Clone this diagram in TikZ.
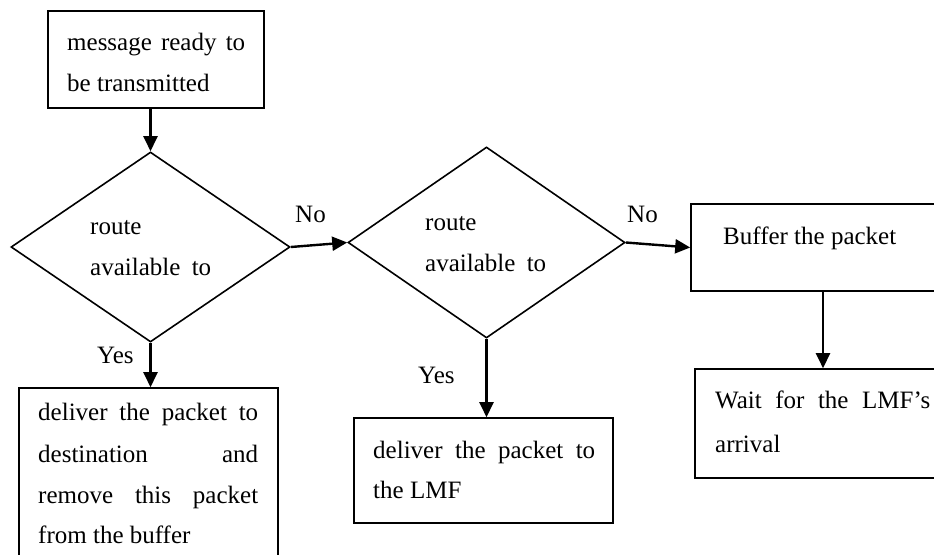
\documentclass[tikz,border=0pt]{standalone}
\usepackage{fontspec}
\setmainfont{Liberation Serif}
\usetikzlibrary{shapes.geometric,arrows.meta}
\begin{document}
\begin{tikzpicture}[x=1pt,y=-1pt,
  box/.style={draw,line width=1.6pt,inner sep=0pt,rectangle},
  dia/.style={draw,line width=1.6pt,inner sep=0pt,diamond},
  txt/.style={anchor=base west,inner sep=0pt,font=\fontsize{25}{30}\selectfont},
  arr/.style={line width=2.4pt,-{Triangle[length=15pt,width=14pt]}}
]
\useasboundingbox (0,0) rectangle (934,554);
\clip (0,0) rectangle (934,554);
% shapes
\node[box,minimum width=216pt,minimum height=97pt] (start) at (156,59.5) {};
\node[dia,minimum width=279pt,minimum height=190pt] (d1) at (150.5,247) {};
\node[dia,minimum width=277pt,minimum height=191pt] (d2) at (486.5,242.5) {};
\node[box,minimum width=264pt,minimum height=87pt] (buf) at (823,247.5) {};
\node[box,minimum width=256pt,minimum height=109pt] (wait) at (823,423.5) {};
\node[box,minimum width=259pt,minimum height=192pt] (del1) at (148.5,484) {};
\node[box,minimum width=259pt,minimum height=105pt] (del2) at (483.5,470.5) {};
% texts
\node[txt] (s1) at (67,50) {\makebox[178pt][s]{message ready to}};
\node[txt] (s2) at (67,91) {be transmitted};
\node[txt] (r1) at (90,234) {route};
\node[txt] (r2) at (90,275) {\makebox[121pt][s]{available to}};
\node[txt] (q1) at (425,230) {route};
\node[txt] (q2) at (425,271) {\makebox[121pt][s]{available to}};
\node[txt] (b1) at (723,244) {Buffer the packet};
\node[txt] (w1) at (715,408) {\makebox[215pt][s]{Wait for the LMF’s}};
\node[txt] (w2) at (715,452) {arrival};
\node[txt] (e1) at (38,420) {\makebox[220pt][s]{deliver the packet to}};
\node[txt] (e2) at (38,462) {\makebox[220pt][s]{destination and}};
\node[txt] (e3) at (38,503) {\makebox[220pt][s]{remove this packet}};
\node[txt] (e4) at (38,543) {from the buffer};
\node[txt] (f1) at (373,458) {\makebox[222pt][s]{deliver the packet to}};
\node[txt] (f2) at (373,498) {the LMF};
\node[txt] (no1) at (295,222) {No};
\node[txt] (no2) at (627,222) {No};
\node[txt] (y1) at (97,363) {Yes};
\node[txt] (y2) at (418,383) {Yes};
% connectors
\draw[arr] (start.south -| d1.north) -- (d1.north);
\draw[arr] (d1.east) -- (d2.west);
\draw[arr] (d2.east) -- (buf.west);
\draw[arr] (buf.south) -- (wait.north);
\draw[arr] (d1.south) -- (d1.south |- del1.north);
\draw[arr] (d2.south) -- (d2.south |- del2.north);
\end{tikzpicture}
\end{document}
